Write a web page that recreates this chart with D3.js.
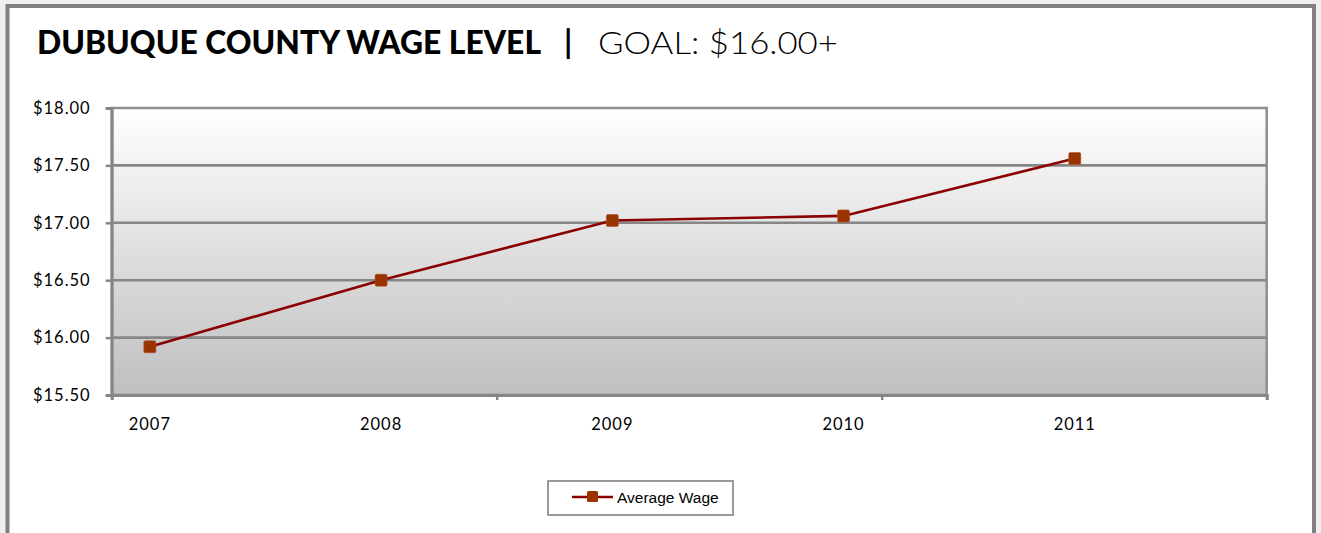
<!DOCTYPE html>
<html>
<head>
<meta charset="utf-8">
<script src="https://cdn.jsdelivr.net/npm/d3@7"></script>
<style>
  html, body { margin: 0; padding: 0; background: #efefef; }
  svg { display: block; }
</style>
</head>
<body>
<svg id="chart" width="1321" height="533"></svg>
<script>
// data
const years  = [2007, 2008, 2009, 2010, 2011];
const wages  = [15.92, 16.50, 17.02, 17.06, 17.56];
const yTicks = [15.5, 16.0, 16.5, 17.0, 17.5, 18.0];
const titleBold  = "DUBUQUE COUNTY WAGE LEVEL";
const titleLight = "GOAL: $16.00+";
const seriesName = "Average Wage";

const W = 1321, H = 533;
const plot = { left: 111.7, right: 1266.7, top: 108, bottom: 395 };
const lineColor   = "#8b0000";
const markerColor = "#993300";
const gridColor   = "#868686";
const labelFont   = "'Century Gothic', Lato, 'DejaVu Sans', sans-serif";

const svg = d3.select("#chart");

// outer frame
svg.append("rect")
	.attr("x", 7.5).attr("y", 6).attr("width", 1306.5).attr("height", 529)
	.attr("fill", "#ffffff").attr("stroke", "#808080").attr("stroke-width", 4);

// title
svg.append("text")
	.attr("x", 37).attr("y", 54)
	.attr("font-family", "Futura, Lato, 'Open Sans', sans-serif")
	.attr("font-weight", 900).attr("font-size", 32)
	.attr("textLength", 504).attr("lengthAdjust", "spacingAndGlyphs")
	.attr("fill", "#000").text(titleBold);
svg.append("text")
	.attr("x", 564).attr("y", 54)
	.attr("font-family", "Futura, Lato, sans-serif")
	.attr("font-weight", 700).attr("font-size", 32)
	.attr("fill", "#000").text("|");
svg.append("text")
	.attr("x", 598).attr("y", 54)
	.attr("font-family", "Futura, 'Century Gothic', Lato, sans-serif")
	.attr("font-weight", 300).attr("font-size", 32)
	.attr("textLength", 240).attr("lengthAdjust", "spacingAndGlyphs")
	.attr("fill", "#000").text(titleLight);

// scales
const x = d3.scaleLinear().domain([2006.835, 2011.83]).range([plot.left, plot.right]);
const y = d3.scaleLinear().domain([15.5, 18.0]).range([plot.bottom, plot.top]);

// plot background gradient
const defs = svg.append("defs");
const grad = defs.append("linearGradient")
	.attr("id", "plotBg").attr("x1", 0).attr("y1", 0).attr("x2", 0).attr("y2", 1);
grad.append("stop").attr("offset", "0%").attr("stop-color", "#ffffff");
grad.append("stop").attr("offset", "100%").attr("stop-color", "#bfbfbf");

svg.append("rect")
	.attr("x", plot.left).attr("y", plot.top)
	.attr("width", plot.right - plot.left).attr("height", plot.bottom - plot.top)
	.attr("fill", "url(#plotBg)")
	.attr("stroke", "#8f8f8f").attr("stroke-width", 2.5);

// gridlines
svg.append("g").selectAll("line")
	.data(yTicks.slice(1, -1))
	.join("line")
	.attr("x1", plot.left).attr("x2", plot.right)
	.attr("y1", d => y(d)).attr("y2", d => y(d))
	.attr("stroke", gridColor).attr("stroke-width", 2.6);

// y axis
const yAxis = svg.append("g")
	.attr("transform", `translate(${plot.left},0)`)
	.call(d3.axisLeft(y).tickValues(yTicks).tickSize(6).tickPadding(15)
		.tickFormat(d => "$" + d3.format(".2f")(d)));
yAxis.select(".domain").attr("stroke", gridColor).attr("stroke-width", 3);
yAxis.selectAll(".tick line").attr("stroke", gridColor).attr("stroke-width", 2.5);
yAxis.selectAll(".tick text")
	.attr("font-family", labelFont).attr("font-size", 16.5)
	.attr("letter-spacing", 1).attr("fill", "#000");

// x axis: tick marks split the axis in thirds, labels sit under the points
const xDom = x.domain();
const xTickVals = d3.range(4).map(i => xDom[0] + i * (xDom[1] - xDom[0]) / 3);
const xAxis = svg.append("g")
	.attr("transform", `translate(0,${plot.bottom})`)
	.call(d3.axisBottom(x).tickValues(xTickVals).tickSize(5).tickFormat(""));
xAxis.select(".domain").attr("stroke", gridColor).attr("stroke-width", 3);
xAxis.selectAll(".tick line").attr("stroke", gridColor).attr("stroke-width", 2.5);

svg.append("g").selectAll("text")
	.data(years)
	.join("text")
	.attr("x", d => x(d)).attr("y", 430)
	.attr("text-anchor", "middle")
	.attr("font-family", labelFont).attr("font-size", 16.5)
	.attr("letter-spacing", 1).attr("fill", "#000")
	.text(d => d);

// series line
const pts = years.map((yr, i) => [yr, wages[i]]);
svg.append("path")
	.datum(pts)
	.attr("fill", "none").attr("stroke", lineColor).attr("stroke-width", 2.6)
	.attr("d", d3.line().x(d => x(d[0])).y(d => y(d[1])));

svg.append("g").selectAll("rect")
	.data(pts)
	.join("rect")
	.attr("x", d => x(d[0]) - 6).attr("y", d => y(d[1]) - 6)
	.attr("width", 12).attr("height", 12).attr("rx", 1.5)
	.attr("fill", markerColor).attr("stroke", "#b0502a").attr("stroke-width", 0.6);

// legend
const lg = svg.append("g").attr("transform", "translate(548,481)");
lg.append("rect")
	.attr("width", 185).attr("height", 34)
	.attr("fill", "#fff").attr("stroke", "#9a9a9a").attr("stroke-width", 2);
lg.append("line")
	.attr("x1", 24).attr("x2", 65).attr("y1", 16).attr("y2", 16)
	.attr("stroke", lineColor).attr("stroke-width", 2.6);
lg.append("rect")
	.attr("x", 39).attr("y", 10).attr("width", 11).attr("height", 11).attr("rx", 1.5)
	.attr("fill", markerColor);
lg.append("text")
	.attr("x", 69).attr("y", 21.5)
	.attr("font-family", "Arial, 'Liberation Sans', sans-serif").attr("font-size", 15.5)
	.attr("fill", "#000").text(seriesName);
</script>
</body>
</html>
